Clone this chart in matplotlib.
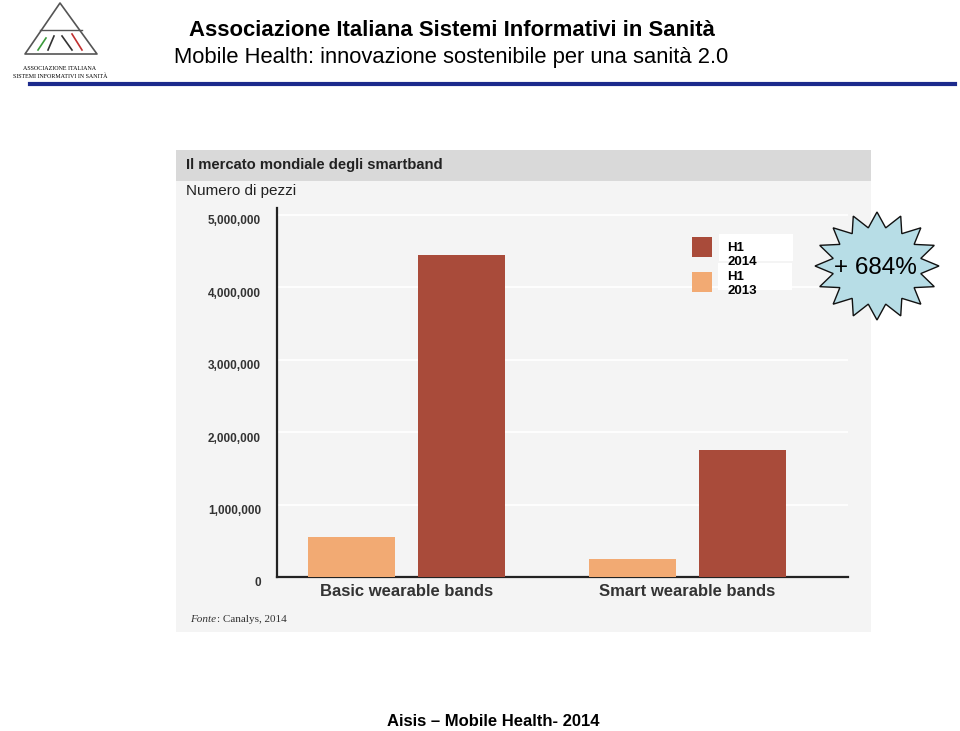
import numpy as np
import matplotlib
matplotlib.use('Agg')
import matplotlib.pyplot as plt
import matplotlib.transforms as mtransforms
from matplotlib.patches import Rectangle, Polygon

# ================== DATA ==================

CATEGORIES = ['Basic wearable bands', 'Smart wearable bands']
H1_2013 = [550000, 250000]
H1_2014 = [4440000, 1750000]
SERIES_LABELS = ['H1\n2014', 'H1\n2013']
Y_TICKS = [0, 1000000, 2000000, 3000000, 4000000, 5000000]

COL_2014 = '#a94b3a'
COL_2013 = '#f2aa73'

W, H = 960, 731

plt.rcParams['font.family'] = ['Liberation Sans', 'DejaVu Sans']


def fx(x):
    return x / W


def fy(y):
    # pixel y measured from the top
    return 1 - y / H


fig = plt.figure(figsize=(W / 100, H / 100), dpi=100)

# ================== HEADER ==================

fig.text(fx(452), fy(30), 'Associazione Italiana Sistemi Informativi in Sanità',
         ha='center', va='center', fontsize=15.9, fontweight='bold', color='black')
fig.text(fx(451), fy(57), 'Mobile Health: innovazione sostenibile per una sanità 2.0',
         ha='center', va='center', fontsize=15.8, color='black')
fig.add_artist(plt.Line2D([fx(30), fx(955)], [fy(84), fy(84)], color='#1c2a8c', lw=3))

# logo
tri = Polygon([(fx(25), fy(54)), (fx(60), fy(3)), (fx(97), fy(54))], closed=True,
              fill=False, edgecolor='#555555', lw=1.2, joinstyle='round')
fig.add_artist(tri)
fig.add_artist(plt.Line2D([fx(40), fx(82)], [fy(30), fy(30)], color='#555555', lw=1))
fig.add_artist(plt.Line2D([fx(38), fx(46)], [fy(50), fy(38)], color='#3a9a3a', lw=1.2))
fig.add_artist(plt.Line2D([fx(48), fx(54)], [fy(50), fy(36)], color='#333333', lw=1.2))
fig.add_artist(plt.Line2D([fx(62), fx(72)], [fy(36), fy(50)], color='#333333', lw=1.2))
fig.add_artist(plt.Line2D([fx(72), fx(82)], [fy(34), fy(50)], color='#c03030', lw=1.2))
fig.text(fx(60), fy(68), 'ASSOCIAZIONE ITALIANA', ha='center', va='center',
         fontsize=4.3, family='Liberation Serif')
fig.text(fx(60), fy(76), 'SISTEMI INFORMATIVI IN SANITÀ', ha='center', va='center',
         fontsize=4.3, family='Liberation Serif')

# ================== CHART PANEL ==================

fig.add_artist(Rectangle((fx(176), fy(632)), fx(871 - 176), (632 - 150) / H,
                         facecolor='#f4f4f4', edgecolor='none', zorder=0))
fig.add_artist(Rectangle((fx(176), fy(181)), fx(871 - 176), (181 - 150) / H,
                         facecolor='#d9d9d9', edgecolor='none', zorder=0))
fig.text(fx(186), fy(165), 'Il mercato mondiale degli smartband', ha='left', va='center',
         fontsize=10.6, fontweight='bold', color='#222222')
fig.text(fx(186), fy(191), 'Numero di pezzi', ha='left', va='center',
         fontsize=11, color='#222222')

ax = fig.add_axes([fx(277), fy(577), fx(848 - 277), (577 - 208) / H])
ax.set_facecolor('none')

x = np.arange(len(CATEGORIES))
bw = 0.31
off = 0.196
ax.bar(x - off, H1_2013, bw, color=COL_2013, zorder=3)
ax.bar(x + off, H1_2014, bw, color=COL_2014, zorder=3)

ax.set_xlim(-0.461, 1.571)
ax.set_ylim(0, 5090000)
ax.set_yticks(Y_TICKS)
ax.set_yticklabels([f'{v:,}' for v in Y_TICKS], fontsize=8.5, fontweight='bold',
                   color='#333333')
ax.set_xticks(x)
ax.set_xticklabels(CATEGORIES, fontsize=12, fontweight='bold', color='#333333')
ax.tick_params(axis='y', length=0, pad=11.5)
ax.tick_params(axis='x', length=0, pad=5)
ax.grid(axis='y', color='white', lw=1.2, zorder=1)
ax.grid(axis='x', visible=False)
for s in ('top', 'right'):
    ax.spines[s].set_visible(False)
for s in ('left', 'bottom'):
    ax.spines[s].set_linewidth(1.6)
    ax.spines[s].set_color('#222222')

shift = mtransforms.ScaledTranslation(0, -5 / 100, fig.dpi_scale_trans)
for lab in ax.get_yticklabels():
    lab.set_transform(lab.get_transform() + shift)

fig.text(fx(190), fy(619), 'Fonte', ha='left', va='center', fontsize=8,
         style='italic', family='Liberation Serif', color='#333333')
fig.text(fx(217), fy(619), ': Canalys, 2014', ha='left', va='center', fontsize=8,
         family='Liberation Serif', color='#333333')

# ================== LEGEND ==================

for col, ytop in [(COL_2014, 237), (COL_2013, 272)]:
    fig.add_artist(Rectangle((fx(692), fy(ytop + 20)), fx(20), 20 / H,
                             facecolor=col, edgecolor='none'))
fig.add_artist(Rectangle((fx(719), fy(261)), fx(74), 27 / H, facecolor='white', edgecolor='none'))
fig.add_artist(Rectangle((fx(718), fy(290)), fx(74), 27 / H, facecolor='white', edgecolor='none'))
fig.text(fx(727), fy(255), SERIES_LABELS[0], ha='left', va='center', fontsize=9.5,
         fontweight='bold', linespacing=1.25)
fig.text(fx(727), fy(284), SERIES_LABELS[1], ha='left', va='center', fontsize=9.5,
         fontweight='bold', linespacing=1.25)

# ================== STARBURST ==================

n = 16
ang = np.linspace(0, 2 * np.pi, 2 * n, endpoint=False) + np.pi / 2
rad = np.where(np.arange(2 * n) % 2 == 0, 1.0, 0.72)
cx, cy = 877, 266
pts = [(fx(cx + 62 * r * np.cos(a)), fy(cy - 54 * r * np.sin(a))) for r, a in zip(rad, ang)]
fig.add_artist(Polygon(pts, closed=True, facecolor='#b7dde6', edgecolor='#111111', lw=1))
fig.text(fx(cx - 2), fy(cy + 2), '+ 684%', ha='center', va='center', fontsize=17.5)

# ================== FOOTER ==================

fig.text(fx(493), fy(722), 'Aisis \u2013 Mobile Health- 2014', ha='center', va='center',
         fontsize=12, fontweight='bold', color='black')

fig.savefig('out.png', dpi=100)
